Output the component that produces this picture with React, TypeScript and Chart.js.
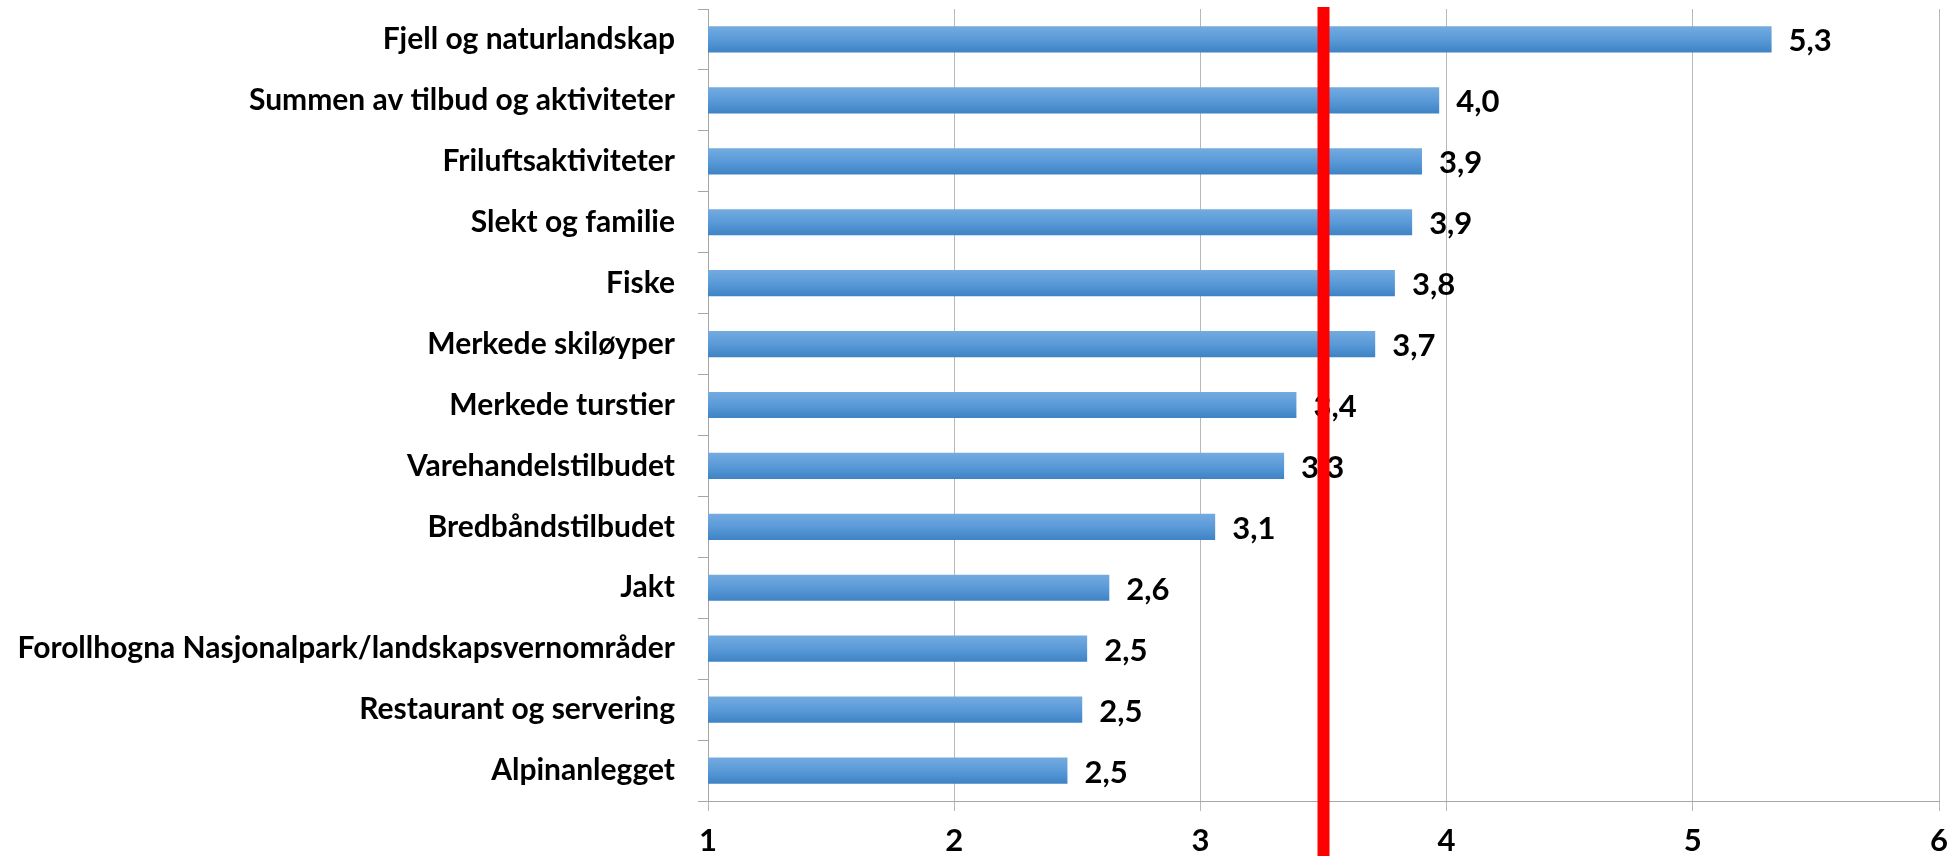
import { useEffect, useRef } from "react";
import { Chart, registerables } from "chart.js";

Chart.register(...registerables);

const categories = [
  "Fjell og naturlandskap",
  "Summen av tilbud og aktiviteter",
  "Friluftsaktiviteter",
  "Slekt og familie",
  "Fiske",
  "Merkede skiløyper",
  "Merkede turstier",
  "Varehandelstilbudet",
  "Bredbåndstilbudet",
  "Jakt",
  "Forollhogna Nasjonalpark/landskapsvernområder",
  "Restaurant og servering",
  "Alpinanlegget",
];

const values = [5.32, 3.97, 3.9, 3.86, 3.79, 3.71, 3.39, 3.34, 3.06, 2.63, 2.54, 2.52, 2.46];

const xTicks = [1, 2, 3, 4, 5, 6];

const THRESHOLD = 3.5;

const FONT = "Lato";

const fmt = (v: number) => v.toFixed(1).replace(".", ",");

export default function App() {
  const ref = useRef<HTMLCanvasElement>(null);

  useEffect(() => {
    document.body.style.margin = "0";
    const canvas = ref.current;
    if (!canvas) return;

    const valueLabels = {
      id: "valueLabels",
      afterDatasetsDraw(chart: any) {
        const ctx = chart.ctx;
        const meta = chart.getDatasetMeta(0);
        ctx.save();
        ctx.font = `bold 31px ${FONT}`;
        ctx.fillStyle = "#000000";
        ctx.textAlign = "left";
        ctx.textBaseline = "middle";
        meta.data.forEach((el: any, i: number) => {
          ctx.fillText(fmt(values[i]), el.x + 17, el.y + 2);
        });
        ctx.restore();
      },
    };

    const thresholdLine = {
      id: "thresholdLine",
      afterDraw(chart: any) {
        const ctx = chart.ctx;
        const x = chart.scales.x.getPixelForValue(THRESHOLD);
        ctx.save();
        ctx.fillStyle = "#ff0000";
        ctx.fillRect(x - 6, 7, 12, chart.height - 7);
        ctx.restore();
      },
    };

    const barGradient = (context: any) => {
      const chart = context.chart;
      const yScale = chart.scales && chart.scales.y;
      if (!chart.chartArea || !yScale || context.dataIndex === undefined) return "#5b9bd5";
      const yc = yScale.getPixelForValue(context.dataIndex);
      const g = chart.ctx.createLinearGradient(0, yc - 13, 0, yc + 13);
      g.addColorStop(0, "#74abe0");
      g.addColorStop(0.5, "#5a9ad8");
      g.addColorStop(1, "#3e83c5");
      return g;
    };

    const chart = new Chart(canvas, {
      type: "bar",
      data: {
        labels: categories,
        datasets: [
          {
            data: values,
            backgroundColor: barGradient,
            borderWidth: 0,
            barPercentage: 0.43,
            categoryPercentage: 1,
          },
        ],
      },
      options: {
        indexAxis: "y",
        animation: false,
        responsive: false,
        maintainAspectRatio: false,
        layout: { padding: { top: 9, right: 15, left: 0, bottom: 0 } },
        plugins: {
          legend: { display: false },
          tooltip: { enabled: false },
        },
        scales: {
          x: {
            type: "linear",
            min: 1,
            max: 6,
            afterBuildTicks: (s: any) => {
              s.ticks = xTicks.map((v) => ({ value: v }));
            },
            afterFit: (s: any) => {
              s.height = 55;
              s.paddingLeft = 0;
              s.paddingRight = 0;
            },
            grid: {
              color: "#b8b8b8",
              lineWidth: 1,
              tickLength: 10,
              drawTicks: true,
            },
            border: { color: "#a6a6a6", width: 1 },
            ticks: {
              color: "#000000",
              font: { family: FONT, size: 31, weight: "bold" },
              padding: 11,
              maxRotation: 0,
              callback: (v: any) => String(v),
            },
          },
          y: {
            type: "category",
            afterFit: (s: any) => {
              s.width = 708;
              s.paddingTop = 0;
              s.paddingBottom = 0;
            },
            grid: {
              display: true,
              drawOnChartArea: false,
              color: "#a6a6a6",
              tickLength: 10,
              offset: true,
            },
            border: { color: "#a6a6a6", width: 1 },
            ticks: {
              color: "#000000",
              font: { family: FONT, size: 30, weight: "bold" },
              padding: 23,
            },
          },
        },
      },
      plugins: [valueLabels, thresholdLine],
    } as any);

    return () => chart.destroy();
  }, []);

  return (
    <div style={{ width: 1954, height: 856, background: "#ffffff" }}>
      <canvas ref={ref} width={1954} height={856} style={{ display: "block" }} />
    </div>
  );
}
